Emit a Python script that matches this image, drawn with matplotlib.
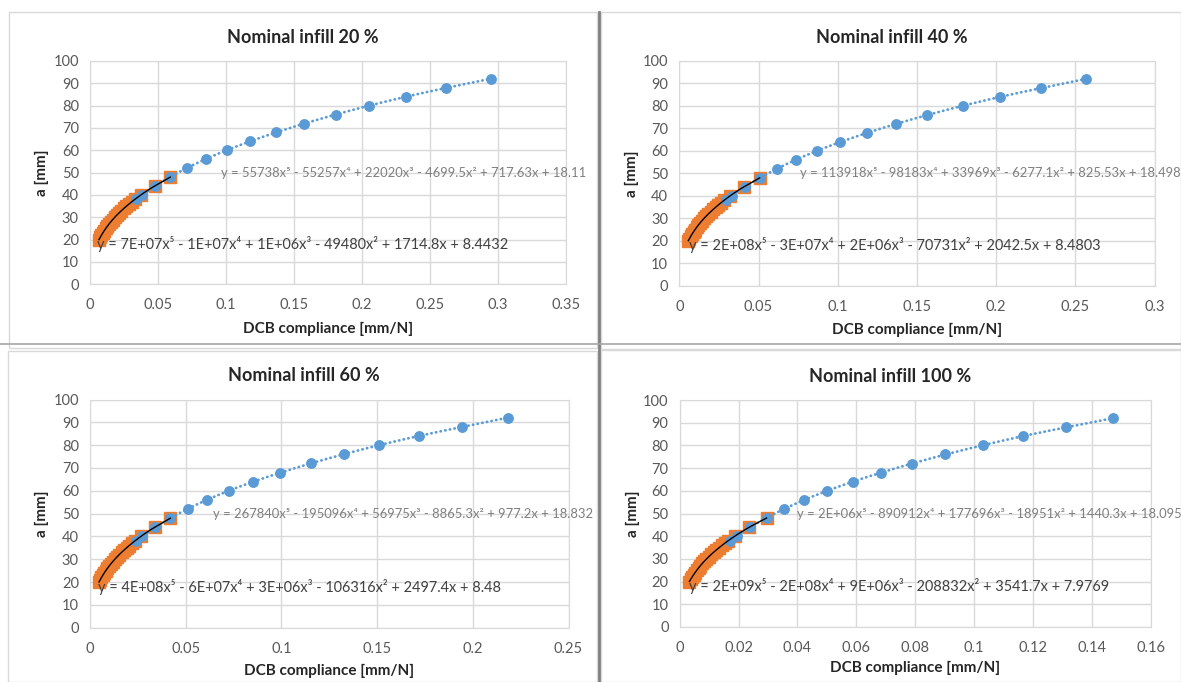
import matplotlib
matplotlib.use("Agg")
import matplotlib.pyplot as plt
import numpy as np
from matplotlib.patches import Rectangle
from matplotlib.lines import Line2D
from matplotlib.ticker import FuncFormatter, MultipleLocator

plt.rcParams['font.family'] = ['Lato', 'DejaVu Sans']

# crack length a [mm]
crack_blue = [38, 40, 44, 48, 52, 56, 60, 64, 68, 72, 76, 80, 84, 88, 92]
crack_orange = [20, 21, 22, 23, 24, 25, 26, 27, 28, 29, 30, 31, 32, 33, 34, 35, 36, 37, 38, 40, 44, 48]

# DCB compliance [mm/N]
comp_blue_20 = [0.0341, 0.0380, 0.0476, 0.0589, 0.0710, 0.0853, 0.1005, 0.1174, 0.1366, 0.1574, 0.1808, 0.2053, 0.2326, 0.2619, 0.2945]
comp_orange_20 = [0.0066, 0.0075, 0.0084, 0.0094, 0.0104, 0.0116, 0.0127, 0.0140, 0.0153, 0.0167, 0.0182, 0.0198, 0.0214, 0.0231, 0.0249, 0.0268, 0.0287, 0.0308, 0.0329, 0.0374, 0.0475, 0.0590]
comp_blue_40 = [0.0295, 0.0332, 0.0416, 0.0507, 0.0617, 0.0734, 0.0872, 0.1017, 0.1185, 0.1365, 0.1566, 0.1789, 0.2025, 0.2284, 0.2565]
comp_orange_40 = [0.0057, 0.0064, 0.0072, 0.0081, 0.0090, 0.0099, 0.0109, 0.0120, 0.0132, 0.0144, 0.0157, 0.0170, 0.0184, 0.0199, 0.0214, 0.0230, 0.0247, 0.0265, 0.0283, 0.0321, 0.0408, 0.0507]
comp_blue_60 = [0.0241, 0.0271, 0.0338, 0.0420, 0.0511, 0.0611, 0.0726, 0.0853, 0.0995, 0.1154, 0.1325, 0.1512, 0.1719, 0.1943, 0.2182]
comp_orange_60 = [0.0047, 0.0053, 0.0060, 0.0067, 0.0074, 0.0082, 0.0091, 0.0100, 0.0109, 0.0119, 0.0130, 0.0141, 0.0152, 0.0165, 0.0177, 0.0191, 0.0205, 0.0219, 0.0234, 0.0266, 0.0338, 0.0420]
comp_blue_100 = [0.0170, 0.0194, 0.0239, 0.0295, 0.0355, 0.0423, 0.0501, 0.0589, 0.0684, 0.0789, 0.0901, 0.1029, 0.1165, 0.1313, 0.1473]
comp_orange_100 = [0.0033, 0.0037, 0.0042, 0.0047, 0.0052, 0.0058, 0.0064, 0.0070, 0.0077, 0.0084, 0.0091, 0.0099, 0.0107, 0.0116, 0.0125, 0.0134, 0.0144, 0.0154, 0.0165, 0.0187, 0.0237, 0.0295]

titles = ["Nominal infill 20 %", "Nominal infill 40 %", "Nominal infill 60 %", "Nominal infill 100 %"]
x_max = [0.35, 0.3, 0.25, 0.16]
x_step = [0.05, 0.05, 0.05, 0.02]

eq_blue = [
    "y = 55738x⁵ - 55257x⁴ + 22020x³ - 4699.5x² + 717.63x + 18.11",
    "y = 113918x⁵ - 98183x⁴ + 33969x³ - 6277.1x² + 825.53x + 18.498",
    "y = 267840x⁵ - 195096x⁴ + 56975x³ - 8865.3x² + 977.2x + 18.832",
    "y = 2E+06x⁵ - 890912x⁴ + 177696x³ - 18951x² + 1440.3x + 18.095",
]
eq_orange = [
    "y = 7E+07x⁵ - 1E+07x⁴ + 1E+06x³ - 49480x² + 1714.8x + 8.4432",
    "y = 2E+08x⁵ - 3E+07x⁴ + 2E+06x³ - 70731x² + 2042.5x + 8.4803",
    "y = 4E+08x⁵ - 6E+07x⁴ + 3E+06x³ - 106316x² + 2497.4x + 8.48",
    "y = 2E+09x⁵ - 2E+08x⁴ + 9E+06x³ - 208832x² + 3541.7x + 7.9769",
]

blue_sets = [comp_blue_20, comp_blue_40, comp_blue_60, comp_blue_100]
orange_sets = [comp_orange_20, comp_orange_40, comp_orange_60, comp_orange_100]

W, H = 1181, 682
fig = plt.figure(figsize=(W / 100, H / 100), dpi=100)
fig.patch.set_facecolor('white')

# plot areas in pixels: left, top, right, bottom
boxes = [(90, 61, 566, 284.3), (679.3, 61, 1154.7, 285.7),
         (90, 399.5, 568.5, 627.7), (679.7, 400, 1150.6, 627)]
eq_x = [(0.275, 0.015), (0.254, 0.020), (0.257, 0.017), (0.250, 0.020)]
xlab_y = [-0.2, -0.195, -0.19, -0.18]

# chart frames and separators
for (x0, y0, x1, y1) in [(9, 12, 597, 348), (601, 12, 1181, 349), (8, 351, 597, 682), (601, 350, 1181, 682)]:
    fig.patches.append(Rectangle((x0 / W, 1 - y1 / H), (x1 - x0) / W, (y1 - y0) / H,
                                 transform=fig.transFigure, fill=False, edgecolor='#d9d9d9', lw=1))
fig.lines.append(Line2D([599 / W, 599 / W], [0, 1 - 12 / H], transform=fig.transFigure, color='#808080', lw=2))
fig.lines.append(Line2D([0, 1], [1 - 344 / H, 1 - 344 / H], transform=fig.transFigure, color='#a6a6a6', lw=1.2))

blue = '#5B9BD5'
orange = '#ED7D31'

for i in range(4):
    l, t, r, b = boxes[i]
    ax = fig.add_axes([l / W, 1 - b / H, (r - l) / W, (b - t) / H])
    xb = np.array(blue_sets[i])
    xo = np.array(orange_sets[i])

    ax.plot(xo, crack_orange, 's', color=orange, markersize=8, markeredgecolor=orange, zorder=3)
    ax.plot(xb, crack_blue, 'o', color=blue, markersize=6.8, markeredgecolor=blue, zorder=4)

    # 5th order polynomial trendlines
    pb = np.polyfit(xb, crack_blue, 5)
    xx = np.linspace(xb.min(), xb.max(), 200)
    ax.plot(xx, np.polyval(pb, xx), color=blue, lw=2, linestyle=(0, (0.1, 1.6)),
            dash_capstyle='round', zorder=5)
    po = np.polyfit(xo, crack_orange, 5)
    xx = np.linspace(xo.min(), xo.max(), 200)
    ax.plot(xx, np.polyval(po, xx), color='black', lw=1, zorder=5)

    ax.set_xlim(0, x_max[i])
    ax.set_ylim(0, 100)
    ax.xaxis.set_major_locator(MultipleLocator(x_step[i]))
    ax.yaxis.set_major_locator(MultipleLocator(10))
    ax.xaxis.set_major_formatter(FuncFormatter(lambda v, p: f"{v:g}"))
    ax.grid(True, color='#d9d9d9', lw=1)
    ax.set_axisbelow(True)
    for s in ax.spines.values():
        s.set_color('#d9d9d9')
    ax.tick_params(length=0, labelsize=10.5, labelcolor='#595959')
    ax.tick_params(axis='y', pad=8)
    ax.tick_params(axis='x', pad=10)

    ax.set_xlabel("DCB compliance [mm/N]", fontsize=11, fontweight='bold', color='#262626', va='center')
    ax.xaxis.set_label_coords(0.5, xlab_y[i])
    ax.set_ylabel("a [mm]", fontsize=11, fontweight='bold', color='#262626', va='center')
    ax.yaxis.set_label_coords(-0.1, 0.5)
    ax.text(0.447, 1.105, titles[i], transform=ax.transAxes, ha='center', va='center',
            fontsize=13, fontweight='bold', color='#262626')

    ax.text(eq_x[i][0], 0.5, eq_blue[i], transform=ax.transAxes, ha='left', va='center',
            fontsize=9.4, color='#7f7f7f', zorder=6)
    ax.text(eq_x[i][1], 0.18, eq_orange[i], transform=ax.transAxes, ha='left', va='center',
            fontsize=10.45, color='#404040', zorder=6)

plt.savefig("out.png", dpi=100)
